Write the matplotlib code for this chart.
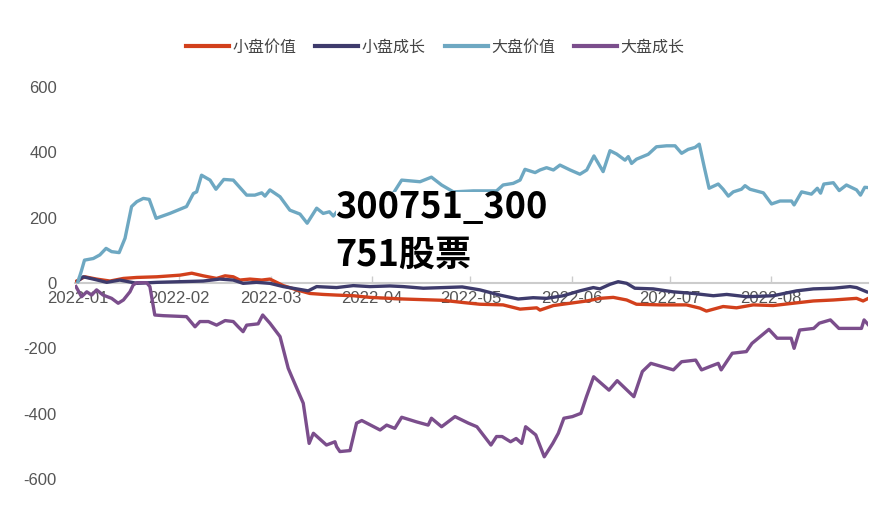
import matplotlib
matplotlib.use("Agg")
import matplotlib.pyplot as plt
import matplotlib.dates as mdates
from matplotlib.patches import Rectangle
import pandas as pd

# ---------------- data (days since 2022-01-01, values) ----------------
base = pd.Timestamp("2022-01-01")

small_value_days = [-0.4, 2.1, 5.7, 9.8, 13.9, 18, 24.1, 31.2, 34.8, 38.3, 42.4, 45, 47.5, 49.5, 52.6,
                    56.2, 58.7, 62.8, 66.9, 70.9, 75, 79.1, 84.2, 89.3, 95.4, 99.5, 105.6, 111.7, 118,
                    122.9, 130, 135.2, 140.3, 141.3, 145.4, 150.5, 155.6, 159.6, 163.7, 167.8, 170.8,
                    178, 186.1, 190.2, 192.2, 197.3, 201.4, 206.5, 212.6, 218.7, 224.9, 231, 238.1,
                    240.1, 241.7]
small_value = [6, 19, 12, 6, 14, 17, 19, 24, 30, 22, 14, 22, 19, 9, 12, 9, 12, -8, -21, -32, -35, -37,
               -39, -44, -47, -49, -51, -53, -60, -65, -67, -80, -76, -83, -69, -62, -55, -47, -44,
               -52, -65, -67, -67, -77, -86, -72, -76, -67, -69, -62, -55, -52, -47, -55, -47]

small_growth_days = [0, 1.6, 4.7, 8.8, 12.8, 18, 24.1, 31.2, 38.3, 43.4, 47.5, 50.5, 54.6, 58.7, 62.8,
                     66.9, 70.4, 73, 79.1, 84.2, 89.3, 95.4, 99.5, 105.6, 111.7, 117.5, 122.9, 129,
                     134.6, 139.2, 143.3, 148.4, 153.5, 157.6, 159.6, 162.7, 165.2, 167.8, 170.3,
                     175.9, 182, 188.2, 194.3, 198.4, 204.5, 212.6, 219.8, 224.9, 231, 236.1, 238.1,
                     241.2]
small_growth = [6, 19, 12, 2, 9, -1, 2, 4, 6, 12, 9, -1, 2, -1, -11, -18, -24, -11, -14, -8, -11, -9,
                -11, -16, -14, -12, -21, -37, -49, -45, -47, -39, -24, -14, -18, -4, 4, -1, -16, -18,
                -27, -32, -39, -35, -42, -39, -24, -18, -16, -11, -14, -27]

large_value_days = [0, 1, 2, 4.7, 6.7, 8.6, 10.3, 12.6, 14.4, 16.4, 18, 20, 21.8, 23.9, 28.1, 33.2,
                    35.3, 36.3, 37.8, 40.4, 42.2, 44.6, 47.5, 51.6, 54.1, 56.2, 57.2, 58.7, 61.8, 64.8,
                    67.9, 70.1, 73, 75, 76.9, 78.1, 80.1, 84, 88, 92, 96.4, 99, 104.6, 108.1, 111.2,
                    114.8, 120.9, 128, 130, 133.1, 135.2, 136.7, 139.8, 141.3, 143.3, 145.4, 147.4,
                    150.5, 153.5, 155.6, 157.8, 160.6, 162.7, 164.7, 167.3, 168.3, 169.3, 170.8, 174.4,
                    176.9, 180, 182.6, 184.6, 186.6, 188.7, 190, 191.5, 193, 195.8, 197.3, 198.9, 200.4,
                    202.9, 204, 205.5, 209.6, 212.1, 214.7, 218.2, 219, 221.3, 224.3, 226.1, 227.1,
                    228.1, 231, 232.8, 235, 238.1, 239.3, 240.6, 241.7]
large_value = [4, 35, 70, 75, 86, 106, 96, 93, 137, 234, 249, 259, 256, 198, 213, 234, 274, 279, 330,
               315, 287, 317, 315, 269, 269, 276, 266, 285, 264, 223, 211, 183, 229, 213, 218, 205, 229,
               222, 245, 250, 274, 315, 310, 324, 300, 279, 282, 282, 300, 305, 315, 348, 338, 346, 353,
               346, 361, 346, 333, 346, 389, 341, 405, 395, 376, 387, 366, 379, 394, 417, 420, 420, 397,
               409, 415, 425, 356, 290, 303, 287, 266, 279, 287, 298, 287, 276, 242, 251, 251, 239, 279,
               272, 290, 275, 303, 307, 283, 300, 285, 269, 293, 292]

large_growth_days = [-0.6, 1.1, 2.7, 4.2, 5.7, 7.7, 10.3, 12.3, 13.9, 15.9, 16.9, 18, 21, 22, 23.5,
                     26.1, 33.2, 35.8, 37.3, 39.9, 42.4, 45, 47.5, 49, 50.5, 51.6, 55.1, 56.5, 58.7,
                     61.8, 64.3, 65.4, 68.9, 70.7, 72, 76, 78.6, 79.1, 80.1, 83.2, 85.2, 86.8, 92.4,
                     94.4, 96.9, 99, 103.5, 107.1, 108.1, 111.2, 115.3, 119.4, 122, 126.3, 128, 129.7,
                     132.3, 134, 135.7, 136.9, 140, 142.6, 145.2, 146.9, 148.6, 151.2, 153.8, 155.5,
                     157.7, 162.4, 164.9, 170, 172.6, 175.2, 182.1, 184.6, 188.9, 190.7, 193.2, 195.8,
                     196.7, 200.1, 204.4, 206.1, 211.3, 213.8, 218.1, 219, 220.7, 225, 226.7, 230.1,
                     232.7, 239.6, 240.4, 241.8]
large_growth = [-11, -42, -27, -37, -21, -37, -47, -62, -52, -27, -6, 1, 1, -11, -98, -100, -103, -134,
                -118, -118, -129, -115, -118, -134, -149, -129, -125, -98, -123, -164, -261, -287, -368,
                -491, -460, -496, -486, -501, -516, -513, -429, -421, -450, -435, -445, -411, -425, -435,
                -414, -440, -409, -429, -440, -496, -470, -470, -486, -476, -491, -440, -465, -532, -491,
                -460, -414, -409, -399, -348, -287, -328, -299, -348, -271, -246, -266, -241, -236, -266,
                -256, -246, -266, -215, -210, -185, -142, -169, -169, -200, -144, -139, -123, -113, -139,
                -139, -113, -129]

series_names = ["小盘价值", "小盘成长", "大盘价值", "大盘成长"]
series_colors = ["#d2401c", "#3e3b6c", "#6ea8c2", "#7b4e8c"]
y_ticks = [-600, -400, -200, 0, 200, 400, 600]
month_ticks = pd.date_range("2022-01-01", "2022-08-01", freq="MS")

def to_dates(days):
    return base + pd.to_timedelta(days, unit="D")

series = [(small_value_days, small_value), (small_growth_days, small_growth),
          (large_value_days, large_value), (large_growth_days, large_growth)]

# ---------------- figure ----------------
plt.rcParams["font.family"] = ["Liberation Sans", "Noto Sans CJK SC", "DejaVu Sans"]
W, H = 879, 515
fig = plt.figure(figsize=(W / 100, H / 100), dpi=100)
ax = fig.add_axes([75 / W, 1 - 479 / H, (868 - 75) / W, (479 - 87) / H])

handles = []
for (d, v), name, col in zip(series, series_names, series_colors):
    h, = ax.plot(to_dates(d), v, color=col, lw=2.4, label=name, solid_joinstyle="round")
    handles.append(h)

ax.set_ylim(-600, 600)
ax.set_xlim(base - pd.Timedelta(days=0.9), base + pd.Timedelta(days=241.6))
ax.set_yticks(y_ticks)
ax.set_yticklabels([str(t) for t in y_ticks])
ax.set_xticks(month_ticks)
ax.xaxis.set_major_formatter(mdates.DateFormatter("%Y-%m"))

for s in ["top", "right", "left"]:
    ax.spines[s].set_visible(False)
ax.spines["bottom"].set_position(("data", 0))
ax.spines["bottom"].set_color("#cccccc")
ax.spines["bottom"].set_linewidth(1.5)
ax.spines["bottom"].set_zorder(0.5)

ax.tick_params(axis="y", length=0, pad=13, labelsize=12, labelcolor="#555555")
ax.tick_params(axis="x", direction="in", length=5, width=1, color="#cccccc",
               pad=6, labelsize=12, labelcolor="#555555")
for lab in ax.get_xticklabels():
    lab.set_zorder(0.3)

leg = fig.legend(handles=handles, labels=series_names, loc="center", ncol=4,
                 bbox_to_anchor=(0.495, 1 - 47 / H), frameon=False,
                 prop={"family": ["Noto Sans CJK SC", "DejaVu Sans"], "size": 11.5},
                 handlelength=2.7, handletextpad=0.2, columnspacing=1.2)
for t in leg.get_texts():
    t.set_color("#444444")
for lh in leg.get_lines():
    lh.set_linewidth(3)

# overlay title text on a white block
fig.patches.append(Rectangle((336 / W, 1 - 271 / H), (546 - 336) / W, (271 - 192) / H,
                             transform=fig.transFigure, facecolor="white",
                             edgecolor="none", zorder=5))
txt_kw = dict(fontsize=26, fontweight="bold", color="black",
              family=["Noto Sans CJK SC", "DejaVu Sans"], va="baseline", ha="left", zorder=6)
fig.text(335 / W, 1 - 218.5 / H, "300751_300", **txt_kw)
fig.text(335 / W, 1 - 265.5 / H, "751股票", **txt_kw)

fig.savefig("out.png", dpi=100, facecolor="white")
